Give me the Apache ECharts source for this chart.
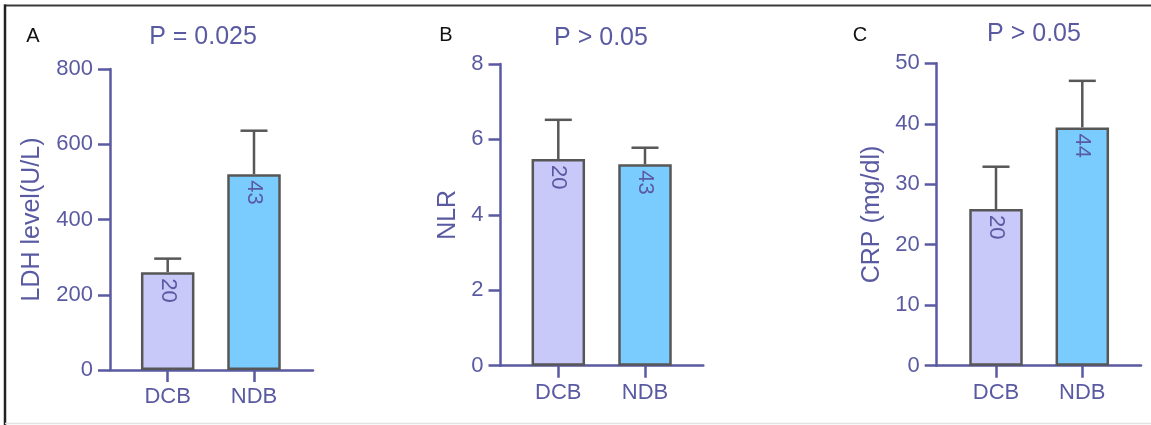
<!DOCTYPE html>
<html>
<head>
<meta charset="utf-8">
<script src="https://cdn.jsdelivr.net/npm/echarts@6/dist/echarts.min.js"></script>
<style>
html,body{margin:0;padding:0;background:#fff;}
#chart{width:1151px;height:425px;}
</style>
</head>
<body>
<div id="chart"></div>
<script>
// ---- data ----
const categories = ['DCB', 'NDB'];
const ldhMean = [260, 520];
const ldhSem = [36, 116];
const ldhN = [20, 43];
const nlrMean = [5.48, 5.34];
const nlrSem = [1.04, 0.44];
const nlrN = [20, 43];
const crpMean = [25.9, 39.4];
const crpSem = [7.0, 7.7];
const crpN = [20, 44];
const panelLetters = ['A', 'B', 'C'];
const pTexts = ['P = 0.025', 'P > 0.05', 'P > 0.05'];
const axisNames = ['LDH level(U/L)', 'NLR', 'CRP (mg/dl)'];
const yMax = [800, 8, 50];
const yInterval = [200, 2, 10];

// ---- layout / style ----
const FONT = '"Liberation Sans", Arial, Helvetica, sans-serif';
const AX = '#5a5aa2';
const EDGE = '#575757';
const FILLS = ['#c8c8f9', '#79ccfd'];
const layout = [
  {axisX:110, top:69, bottom:370, xEnd:313, c1:167.7, c2:254, lx:33, ly:36, tx:203, ty:37, gap:65},
  {axisX:500.5, top:64, bottom:365.7, xEnd:703.3, c1:558.3, c2:645, lx:446, ly:35, tx:601, ty:38, gap:40},
  {axisX:936.7, top:63.3, bottom:365.7, xEnd:1141, c1:996, c2:1082.3, lx:860, ly:35, tx:1034, ty:34, gap:52}
];
const means = [ldhMean, nlrMean, crpMean];
const sems = [ldhSem, nlrSem, crpSem];
const ns = [ldhN, nlrN, crpN];

const grid = [], xAxis = [], yAxis = [], series = [], graphic = [];

layout.forEach((L, i) => {
  const band = L.c2 - L.c1;
  const gLeft = L.c1 - band / 2;
  grid.push({left: gLeft, top: L.top, width: band * 2, height: L.bottom - L.top});
  grid.push({left: L.axisX, top: L.top, width: L.xEnd - L.axisX, height: L.bottom - L.top});
  const gi = i * 2;
  xAxis.push({
    gridIndex: gi, type: 'category', data: categories,
    axisLine: {show: false},
    axisTick: {show: true, alignWithLabel: true, length: 12, lineStyle: {color: AX, width: 2.5}},
    axisLabel: {color: AX, fontSize: 22, fontFamily: FONT, margin: 16},
    splitLine: {show: false}
  });
  xAxis.push({
    gridIndex: gi + 1, type: 'value', min: 0, max: 1,
    axisLine: {show: true, lineStyle: {color: AX, width: 2.5}},
    axisTick: {show: false}, axisLabel: {show: false}, splitLine: {show: false}
  });
  yAxis.push({
    gridIndex: gi, type: 'value', min: 0, max: yMax[i], interval: yInterval[i],
    offset: gLeft - L.axisX,
    name: axisNames[i], nameLocation: 'middle', nameGap: L.gap,
    nameTextStyle: {color: AX, fontSize: 25, fontFamily: FONT},
    axisLine: {show: true, lineStyle: {color: AX, width: 2.5}},
    axisTick: {show: true, length: 12, lineStyle: {color: AX, width: 2.5}},
    axisLabel: {color: AX, fontSize: 22, fontFamily: FONT, margin: 17},
    splitLine: {show: false}
  });
  yAxis.push({gridIndex: gi + 1, type: 'value', show: false, min: 0, max: 1});

  const nArr = ns[i];
  series.push({
    type: 'custom', xAxisIndex: gi, yAxisIndex: gi, z: 1,
    data: means[i].map((m, k) => [k, m, m + sems[i][k]]),
    renderItem: function (params, api) {
      const idx = api.value(0);
      const p0 = api.coord([idx, api.value(1)]);
      const p1 = api.coord([idx, api.value(2)]);
      const half = 13.5;
      const st = {stroke: EDGE, lineWidth: 2.5, fill: null};
      return {type: 'group', children: [
        {type: 'line', shape: {x1: p0[0], y1: p0[1], x2: p1[0], y2: p1[1]}, style: st},
        {type: 'line', shape: {x1: p1[0] - half, y1: p1[1], x2: p1[0] + half, y2: p1[1]}, style: st}
      ]};
    }
  });
  series.push({
    type: 'bar', xAxisIndex: gi, yAxisIndex: gi, z: 2,
    barWidth: 53.5,
    data: means[i].map((m, k) => ({value: m, itemStyle: {color: FILLS[k]}})),
    itemStyle: {borderColor: EDGE, borderWidth: 2.5},
    label: {
      show: true, position: 'insideTop', distance: 6, rotate: -90,
      align: 'left', verticalAlign: 'middle',
      color: AX, fontSize: 22, fontFamily: FONT,
      formatter: p => String(nArr[p.dataIndex])
    }
  });

  graphic.push({type: 'text', x: L.lx, y: L.ly, style: {text: panelLetters[i], fontSize: 20, fontFamily: FONT, fill: '#111',
    align: 'center', verticalAlign: 'middle', textAlign: 'center', textVerticalAlign: 'middle'}});
  graphic.push({type: 'text', x: L.tx, y: L.ty, style: {text: pTexts[i], fontSize: 25, fontFamily: FONT, fill: AX,
    align: 'center', verticalAlign: 'middle', textAlign: 'center', textVerticalAlign: 'middle'}});
});

// frame
graphic.push({type: 'line', shape: {x1: 4, y1: 5.5, x2: 1151, y2: 5.5}, style: {stroke: '#3a3a3a', lineWidth: 2}});
graphic.push({type: 'line', shape: {x1: 5, y1: 4.5, x2: 5, y2: 425}, style: {stroke: '#222', lineWidth: 2.5}});
graphic.push({type: 'line', shape: {x1: 5, y1: 423.5, x2: 1151, y2: 423.5}, style: {stroke: '#e2e2e2', lineWidth: 1.5}});

const chart = echarts.init(document.getElementById('chart'), null, {renderer: 'canvas'});
chart.setOption({
  animation: false,
  backgroundColor: '#fff',
  grid, xAxis, yAxis, series, graphic
});
</script>
</body>
</html>
